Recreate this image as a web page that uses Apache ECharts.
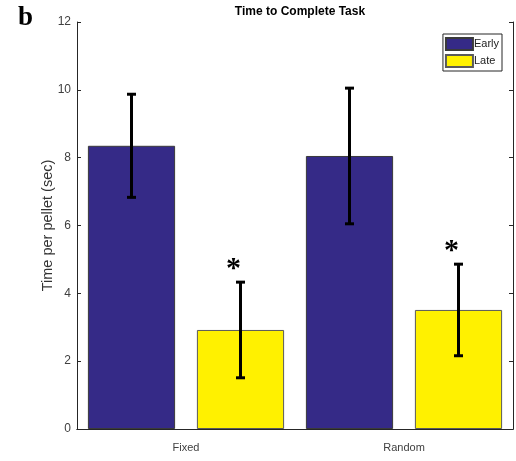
<!DOCTYPE html>
<html><head><meta charset="utf-8">
<script src="https://cdn.jsdelivr.net/npm/echarts@6/dist/echarts.min.js"></script>
<style>html,body{margin:0;padding:0;background:#fff}#c{width:516px;height:461px}</style>
</head><body><div id="c"></div>
<script>
const categories = ['Fixed', 'Random'];
const seriesNames = ['Early', 'Late'];
const earlyMean = [8.35, 8.05];
const earlyErr = [1.52, 2.0];
const lateMean = [2.92, 3.51];
const lateErr = [1.41, 1.35];
const lateSignificant = [true, true];
const yTicks = [0, 2, 4, 6, 8, 10, 12];

const colEarly = '#352a87';
const colLate = '#fff100';
const axisCol = '#262626';
const labelCol = '#404040';

function errSeries(name, means, errs, offsetFrac, stars) {
  return {
    type: 'custom',
    name: name + '_err',
    z: 10,
    silent: true,
    data: means.map((m, i) => [i, m, errs[i], stars ? (stars[i] ? 1 : 0) : 0]),
    renderItem: function (params, api) {
      const i = api.value(0), m = api.value(1), e = api.value(2), s = api.value(3);
      const bw = api.size([1, 0])[0];
      const cx = api.coord([i, m])[0] + bw * offsetFrac;
      const yTop = api.coord([i, m + e])[1];
      const yBot = api.coord([i, m - e])[1];
      const cap = 4.5;
      const st = { stroke: '#000', lineWidth: 3 };
      const children = [
        { type: 'line', shape: { x1: cx, y1: yTop, x2: cx, y2: yBot }, style: st },
        { type: 'line', shape: { x1: cx - cap, y1: yTop, x2: cx + cap, y2: yTop }, style: { stroke: '#000', lineWidth: 3 } },
        { type: 'line', shape: { x1: cx - cap, y1: yBot, x2: cx + cap, y2: yBot }, style: { stroke: '#000', lineWidth: 3 } }
      ];
      if (s) {
        children.push({ type: 'text', style: { text: '*', x: cx - 7, y: yTop - 13, align: 'center', verticalAlign: 'middle', font: 'bold 30px "Liberation Serif", serif', fill: '#000' } });
      }
      return { type: 'group', children: children };
    }
  };
}

const chart = echarts.init(document.getElementById('c'));
chart.setOption({
  animation: false,
  title: [
    { text: 'Time to Complete Task', left: 295, top: 1, textAlign: 'center',
      textStyle: { fontFamily: 'Liberation Sans, Arial, sans-serif', fontWeight: 'bold', fontSize: 12, color: '#000' } },
    { text: 'b', left: 13, top: 0,
      textStyle: { fontFamily: 'Liberation Serif, serif', fontWeight: 'bold', fontSize: 27, color: '#000' } }
  ],
  legend: {
    data: seriesNames.map(n => ({ name: n, icon: 'rect' })),
    orient: 'vertical',
    right: 14, top: 34,
    itemWidth: 27, itemHeight: 12, itemGap: 3,
    padding: [3, 3, 3, 2],
    borderColor: '#262626', borderWidth: 1,
    textStyle: { fontFamily: 'Liberation Sans, Arial, sans-serif', fontSize: 11, color: '#222', padding: [0, 0, 0, -4] },
    selectedMode: false
  },
  grid: { left: 77, right: 3, top: 22, bottom: 32 },
  xAxis: [
    { type: 'category', data: categories, position: 'bottom',
      axisLine: { lineStyle: { color: axisCol, width: 1 } }, axisTick: { show: false },
      axisLabel: { color: labelCol, fontFamily: 'Liberation Sans, Arial, sans-serif', fontSize: 11, margin: 13 } },
    { type: 'category', data: categories, position: 'top',
      axisLine: { lineStyle: { color: axisCol, width: 1 } }, axisTick: { show: false }, axisLabel: { show: false } }
  ],
  yAxis: [
    { type: 'value', min: 0, max: 12, interval: 2, position: 'left',
      name: 'Time per pellet (sec)', nameLocation: 'middle', nameGap: 22, nameMoveOverlap: false,
      nameTextStyle: { color: '#333', fontFamily: 'Liberation Sans, Arial, sans-serif', fontSize: 14.5 },
      axisLine: { show: true, lineStyle: { color: axisCol } },
      axisTick: { show: true, inside: true, length: 4, lineStyle: { color: axisCol } },
      splitLine: { show: false },
      axisLabel: { color: labelCol, fontFamily: 'Liberation Sans, Arial, sans-serif', fontSize: 12, margin: 6,
        formatter: v => yTicks.includes(v) ? String(v) : '' } },
    { type: 'value', min: 0, max: 12, interval: 2, position: 'right',
      axisLine: { show: true, lineStyle: { color: axisCol } },
      axisTick: { show: true, inside: true, length: 4, lineStyle: { color: axisCol } },
      splitLine: { show: false }, axisLabel: { show: false } }
  ],
  series: [
    { type: 'bar', name: 'Early', data: earlyMean, barWidth: '40%', barGap: '25%',
      itemStyle: { color: colEarly, borderColor: '#3a3a3a', borderWidth: 1 } },
    { type: 'bar', name: 'Late', data: lateMean, barWidth: '40%', barGap: '25%',
      itemStyle: { color: colLate, borderColor: '#5a5a5a', borderWidth: 1 } },
    errSeries('Early', earlyMean, earlyErr, -0.25, null),
    errSeries('Late', lateMean, lateErr, 0.25, lateSignificant)
  ]
});
</script>
</body></html>
